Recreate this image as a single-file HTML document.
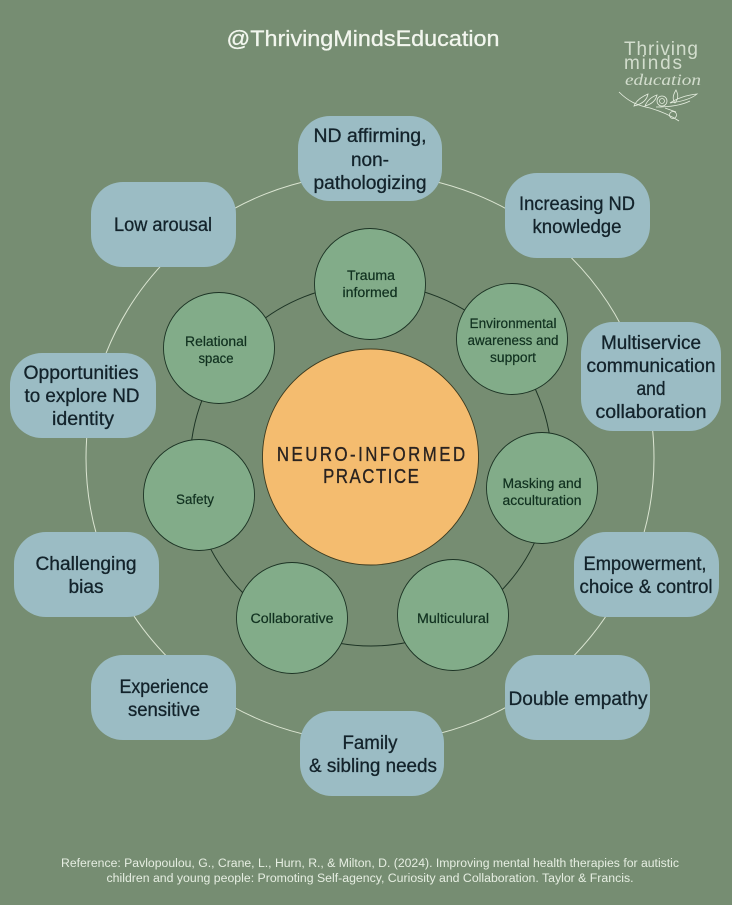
<!DOCTYPE html>
<html><head><meta charset="utf-8"><style>
html,body{margin:0;padding:0;background:#768d72}
svg{display:block}
text{font-family:"Liberation Sans",sans-serif;text-anchor:middle}
.o{font-size:19px;fill:#13232b;stroke:#13232b;stroke-width:.3px}
.i{font-size:13.5px;fill:#10301f;stroke:#10301f;stroke-width:.2px}
.c{font-size:20px;fill:#2a2320;stroke:#2a2320;stroke-width:.35px}
.r{font-size:11.5px;fill:#e6eee2}
.l{fill:#e3ebdd;text-anchor:start;opacity:.85}
</style></head><body>
<svg width="732" height="905" viewBox="0 0 732 905" xmlns="http://www.w3.org/2000/svg">
<rect width="732" height="905" fill="#768d72"/>
<circle cx="370" cy="458" r="284" fill="none" stroke="#dbe5d2" stroke-width="1"/>
<circle cx="371" cy="465" r="181" fill="none" stroke="#1c3324" stroke-width="1"/>
<g fill="#9bbcc4">
<rect x="298" y="116" width="144" height="85" rx="32"/>
<rect x="505" y="173" width="145" height="85" rx="32"/>
<rect x="91" y="182" width="145" height="85" rx="32"/>
<rect x="581" y="322" width="140" height="109" rx="32"/>
<rect x="10" y="353" width="146" height="85" rx="32"/>
<rect x="574" y="532" width="145" height="85" rx="32"/>
<rect x="14" y="532" width="145" height="85" rx="32"/>
<rect x="505" y="655" width="145" height="85" rx="32"/>
<rect x="91" y="655" width="145" height="85" rx="32"/>
<rect x="300" y="711" width="144" height="85" rx="32"/>
</g>
<g fill="#82ac89" stroke="#1c3324" stroke-width="0.9">
<circle cx="370" cy="284" r="55.5"/>
<circle cx="219" cy="348" r="55.5"/>
<circle cx="512" cy="339" r="55.5"/>
<circle cx="542" cy="488" r="55.5"/>
<circle cx="199" cy="495" r="55.5"/>
<circle cx="292" cy="618" r="55.5"/>
<circle cx="453" cy="615" r="55.5"/>
</g>
<circle cx="370.5" cy="457" r="108" fill="#f4bc6f" stroke="#3a3a20" stroke-width="0.9"/>

<text x="363" y="46" font-size="22.5" fill="#f2f6ee" stroke="#f2f6ee" stroke-width=".3" textLength="273" lengthAdjust="spacingAndGlyphs">@ThrivingMindsEducation</text>
<text class="l" x="624" y="55" textLength="74" lengthAdjust="spacing" style="font-size:19px">Thriving</text>
<text class="l" x="624" y="69" textLength="58" lengthAdjust="spacing" style="font-size:19px">minds</text>
<text class="l" x="625" y="85" textLength="76" lengthAdjust="spacingAndGlyphs" style="font-size:16px;font-family:'Liberation Serif',serif;font-style:italic">education</text>
<g fill="none" stroke="#e6eee0" stroke-width="0.8">
<path d="M619 92C628 101 636 105 650 108C660 111 670 115 679 121"/>
<path d="M656 107C668 107 680 106 690 101"/>
<path d="M670 103C678 102 690 100 697 94C686 95 676 99 670 103Z"/>
<path d="M675 103C679 98 678 94 676 90C673 95 672 99 675 103Z"/>
<path d="M634 106C636 101 641 97 648 94C647 100 642 104 634 106Z"/>
<path d="M645 106C647 101 651 97 657 95C656 100 652 104 645 106Z"/>
<circle cx="662" cy="101" r="5"/><circle cx="662" cy="101" r="2.5"/>
<circle cx="673" cy="115" r="3.5"/><path d="M665 108L676 112"/>
</g>

<text class="o" x="370" y="142" textLength="113" lengthAdjust="spacingAndGlyphs">ND affirming,</text>
<text class="o" x="370" y="166" textLength="38" lengthAdjust="spacingAndGlyphs">non-</text>
<text class="o" x="370" y="189" textLength="113" lengthAdjust="spacingAndGlyphs">pathologizing</text>
<text class="o" x="577" y="210" textLength="116" lengthAdjust="spacingAndGlyphs">Increasing ND</text>
<text class="o" x="577" y="233" textLength="89" lengthAdjust="spacingAndGlyphs">knowledge</text>
<text class="o" x="163" y="231" textLength="98" lengthAdjust="spacingAndGlyphs">Low arousal</text>
<text class="o" x="651" y="349" textLength="100" lengthAdjust="spacingAndGlyphs">Multiservice</text>
<text class="o" x="651" y="372" textLength="129" lengthAdjust="spacingAndGlyphs">communication</text>
<text class="o" x="651" y="395" textLength="29" lengthAdjust="spacingAndGlyphs">and</text>
<text class="o" x="651" y="418" textLength="111" lengthAdjust="spacingAndGlyphs">collaboration</text>
<text class="o" x="81" y="379" textLength="115" lengthAdjust="spacingAndGlyphs">Opportunities</text>
<text class="o" x="82" y="402" textLength="115" lengthAdjust="spacingAndGlyphs">to explore ND</text>
<text class="o" x="83" y="425" textLength="62" lengthAdjust="spacingAndGlyphs">identity</text>
<text class="o" x="645" y="570" textLength="123" lengthAdjust="spacingAndGlyphs">Empowerment,</text>
<text class="o" x="646" y="593" textLength="133" lengthAdjust="spacingAndGlyphs">choice &amp; control</text>
<text class="o" x="86" y="570" textLength="101" lengthAdjust="spacingAndGlyphs">Challenging</text>
<text class="o" x="86" y="593" textLength="35" lengthAdjust="spacingAndGlyphs">bias</text>
<text class="o" x="578" y="705" textLength="139" lengthAdjust="spacingAndGlyphs">Double empathy</text>
<text class="o" x="164" y="693" textLength="89" lengthAdjust="spacingAndGlyphs">Experience</text>
<text class="o" x="164" y="716" textLength="72" lengthAdjust="spacingAndGlyphs">sensitive</text>
<text class="o" x="370" y="749" textLength="55" lengthAdjust="spacingAndGlyphs">Family</text>
<text class="o" x="373" y="772" textLength="128" lengthAdjust="spacingAndGlyphs">&amp; sibling needs</text>

<text class="i" x="371" y="280" textLength="48" lengthAdjust="spacingAndGlyphs">Trauma</text>
<text class="i" x="370" y="297" textLength="55" lengthAdjust="spacingAndGlyphs">informed</text>
<text class="i" x="216" y="346" textLength="62" lengthAdjust="spacingAndGlyphs">Relational</text>
<text class="i" x="216" y="363" textLength="35" lengthAdjust="spacingAndGlyphs">space</text>
<text class="i" x="513" y="328" textLength="87" lengthAdjust="spacingAndGlyphs">Environmental</text>
<text class="i" x="513" y="345" textLength="91" lengthAdjust="spacingAndGlyphs">awareness and</text>
<text class="i" x="513" y="362" textLength="46" lengthAdjust="spacingAndGlyphs">support</text>
<text class="i" x="542" y="488" textLength="79" lengthAdjust="spacingAndGlyphs">Masking and</text>
<text class="i" x="542" y="505" textLength="79" lengthAdjust="spacingAndGlyphs">acculturation</text>
<text class="i" x="195" y="504" textLength="38" lengthAdjust="spacingAndGlyphs">Safety</text>
<text class="i" x="292" y="623" textLength="83" lengthAdjust="spacingAndGlyphs">Collaborative</text>
<text class="i" x="453" y="623" textLength="72" lengthAdjust="spacingAndGlyphs">Multiculural</text>

<text class="c" transform="translate(371 461) scale(.84 1)" x="0" y="0" textLength="224" lengthAdjust="spacing">NEURO-INFORMED</text>
<text class="c" transform="translate(371 483) scale(.84 1)" x="0" y="0" textLength="114" lengthAdjust="spacing">PRACTICE</text>

<text class="r" x="370" y="867" textLength="618" lengthAdjust="spacingAndGlyphs">Reference: Pavlopoulou, G., Crane, L., Hurn, R., &amp; Milton, D. (2024). Improving mental health therapies for autistic</text>
<text class="r" x="370" y="882" textLength="527" lengthAdjust="spacingAndGlyphs">children and young people: Promoting Self-agency, Curiosity and Collaboration. Taylor &amp; Francis.</text>
</svg>
</body></html>
